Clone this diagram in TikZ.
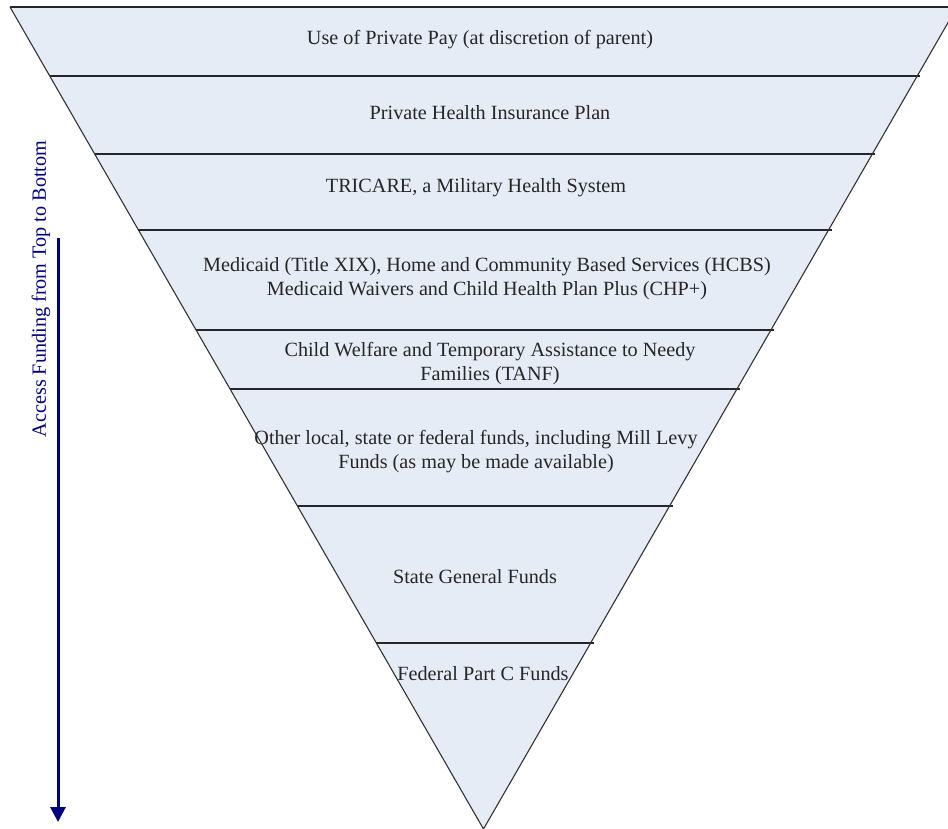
\documentclass[tikz,border=0pt]{standalone}
\usepackage{fontspec}
\setmainfont{Liberation Serif}
\usetikzlibrary{arrows.meta}
\definecolor{fillblue}{HTML}{E6ECF6}
\definecolor{edgegray}{HTML}{333333}
\definecolor{navyblue}{HTML}{00007F}
\tikzset{
  lbl/.style={font=\fontsize{20.2}{24}\selectfont, text=black!85, align=center, inner sep=0pt},
  sepline/.style={line width=1.8pt, draw=black!85},
  edge/.style={line width=1.1pt, draw=edgegray},
}
\begin{document}
\begin{tikzpicture}[x=1pt,y=-1pt]
\useasboundingbox (0,0) rectangle (948,828);
\clip (0,0) rectangle (948,828);
% triangle
\coordinate (TL) at (10,7);
\coordinate (TR) at (957,7);
\coordinate (AP) at (483.5,829);
\fill[fillblue] (TL) -- (TR) -- (AP) -- cycle;
% separator lines
\foreach \y/\n in {76/a,154/b,230/c,330/d,389/e,506/f,643/g}{
  \pgfmathsetmacro{\xl}{10+0.5754*(\y-7)}
  \pgfmathsetmacro{\xr}{957-0.5754*(\y-7)+3}
  \coordinate (L\n) at (\xl,\y);
  \coordinate (R\n) at (\xr,\y);
  \draw[sepline] (L\n) -- (R\n);
}
\draw[edge] (TL) -- (AP) -- (TR);
\draw[line width=1.8pt, draw=black!85] (TL) -- (TR);
% labels
\node[lbl] (t1) at (480,40) {Use of Private Pay (at discretion of parent)};
\node[lbl] (t2) at (490,113) {Private Health Insurance Plan};
\node[lbl] (t3) at (476,188) {TRICARE, a Military Health System};
\node[lbl] (t4) at (487,279) {Medicaid (Title XIX), Home and Community Based Services (HCBS)\\Medicaid Waivers and Child Health Plan Plus (CHP+)};
\node[lbl] (t5) at (490,364) {Child Welfare and Temporary Assistance to Needy\\Families (TANF)};
\node[lbl] (t6) at (476,452) {Other local, state or federal funds, including Mill Levy\\Funds (as may be made available)};
\node[lbl] (t7) at (475,577) {State General Funds};
\node[lbl] (t8) at (483,674) {Federal Part C Funds};
% side arrow and label
\coordinate (arrS) at (58,238);
\coordinate (arrE) at (58,822);
\draw[navyblue, line width=3pt, -{Triangle[width=15pt,length=15pt]}] (arrS) -- (arrE);
\node[lbl, text=navyblue, rotate=90] (side) at (41,289) {Access Funding from Top to Bottom};
\end{tikzpicture}
\end{document}
